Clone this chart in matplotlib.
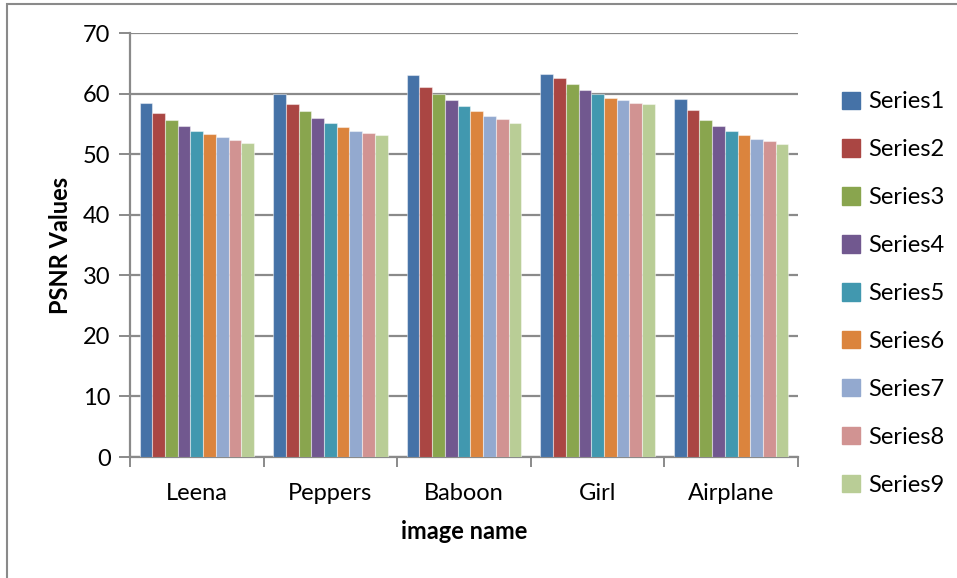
import matplotlib
matplotlib.use("Agg")
import matplotlib.pyplot as plt
import matplotlib.patches as mpatches
import numpy as np

plt.rcParams['font.family'] = ['Lato', 'DejaVu Sans']

categories = ["Leena", "Peppers", "Baboon", "Girl", "Airplane"]
series_names = ["Series1", "Series2", "Series3", "Series4", "Series5",
                "Series6", "Series7", "Series8", "Series9"]
series1 = [58.4, 60.0, 63.1, 63.3, 59.1]
series2 = [56.8, 58.2, 61.1, 62.5, 57.3]
series3 = [55.7, 57.1, 60.0, 61.5, 55.7]
series4 = [54.7, 56.0, 58.9, 60.6, 54.6]
series5 = [53.9, 55.2, 57.9, 60.0, 53.8]
series6 = [53.3, 54.5, 57.1, 59.3, 53.1]
series7 = [52.8, 53.9, 56.3, 58.9, 52.5]
series8 = [52.4, 53.5, 55.8, 58.5, 52.2]
series9 = [51.9, 53.1, 55.2, 58.2, 51.6]
all_series = [series1, series2, series3, series4, series5,
              series6, series7, series8, series9]
colors = ["#4572A7", "#AA4643", "#89A54E", "#71588F", "#4198AF",
          "#DB843D", "#93A9CF", "#D19392", "#B9CD96"]

W, H = 957, 578
fig = plt.figure(figsize=(W / 100, H / 100), dpi=100)
ax = fig.add_axes([130 / W, 1 - 457 / H, (798 - 130) / W, (457 - 33) / H])

FS = 17
n = len(all_series)
bw = 1.0 / (n + 1.5)
x = np.arange(len(categories))
handles = []
for i, (vals, c, name) in enumerate(zip(all_series, colors, series_names)):
    off = (i - (n - 1) / 2) * bw
    ax.bar(x + off, vals, width=bw, color=c, edgecolor=(1, 1, 1, 0.45),
           linewidth=0.8, label=name, zorder=3)
    handles.append(mpatches.Patch(color=c, label=name))

ax.set_ylim(0, 70)
ax.set_xlim(-0.5, len(categories) - 0.5)
ax.set_yticks(np.arange(0, 71, 10))
ax.yaxis.grid(True, color="#8a8a8a", linewidth=1.6, zorder=0)
ax.set_axisbelow(True)
for s in ["top", "right"]:
    ax.spines[s].set_visible(False)
for s in ["left", "bottom"]:
    ax.spines[s].set_color("#8a8a8a")
    ax.spines[s].set_linewidth(1.6)

ax.set_xticks(x)
ax.set_xticklabels(categories)
ax.set_xticks(np.arange(-0.5, len(categories), 1.0), minor=True)
ax.tick_params(axis="x", which="major", length=0, pad=19, labelsize=FS)
ax.tick_params(axis="x", which="minor", length=7, width=1.4, color="#8a8a8a", direction="out")
ax.tick_params(axis="y", length=8, width=1.4, color="#8a8a8a", pad=6, labelsize=FS)

ax.set_ylabel("PSNR Values", fontsize=FS, fontweight="bold", labelpad=8)
ax.set_xlabel("image name", fontsize=FS, fontweight="bold", labelpad=11)

fig.legend(handles=handles, loc="upper left", bbox_to_anchor=(833 / W, 1 - 82 / H),
           frameon=False, fontsize=FS, handlelength=0.75, handleheight=0.75,
           labelspacing=1.14, handletextpad=0.35, borderaxespad=0)

border = mpatches.Rectangle((7 / W, -0.1), 1.2, 1.1 - 4 / H, transform=fig.transFigure,
                            fill=False, edgecolor="#8a8a8a", linewidth=1.5)
fig.patches.append(border)

fig.savefig("out.png", dpi=100)
